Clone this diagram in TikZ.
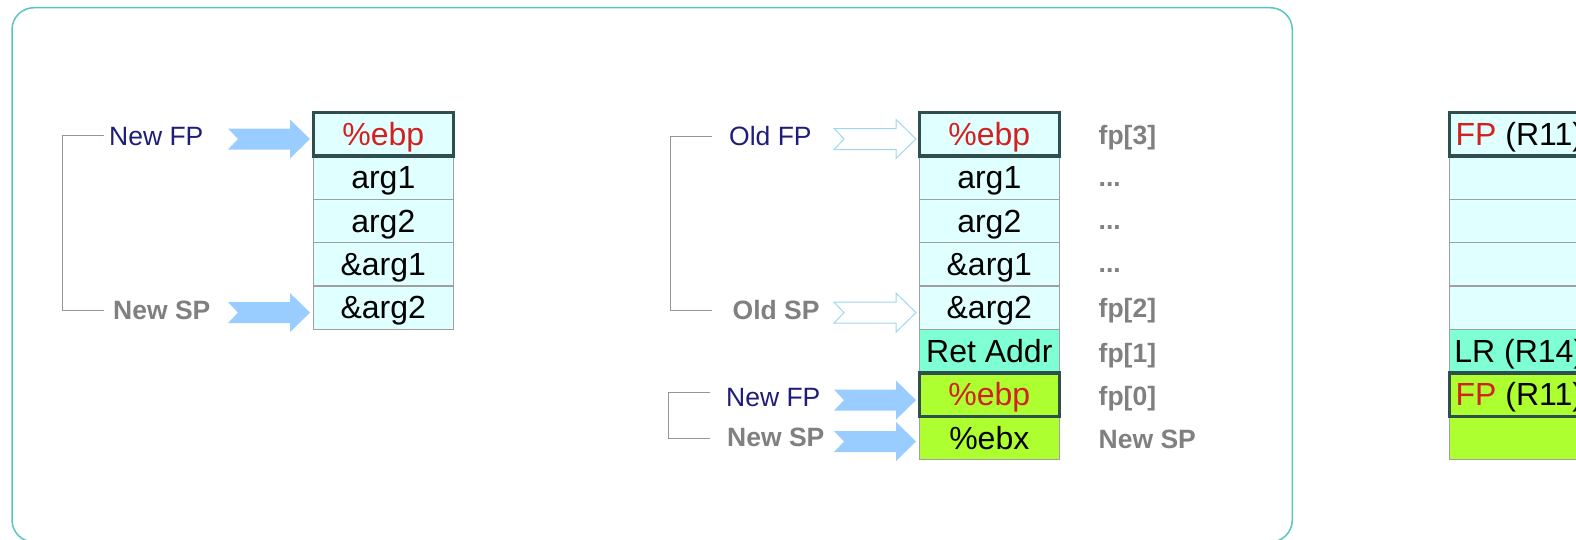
\documentclass[tikz,border=0pt]{standalone}
\usepackage{fontspec}
\setmainfont{Liberation Sans}
\usetikzlibrary{calc}

\definecolor{framecol}{RGB}{88,198,190}
\definecolor{cellfill}{RGB}{224,255,255}
\definecolor{retfill}{RGB}{127,255,212}
\definecolor{newfill}{RGB}{173,255,47}
\definecolor{celledge}{RGB}{160,160,160}
\definecolor{fpedge}{RGB}{47,79,79}
\definecolor{regred}{RGB}{212,32,32}
\definecolor{labnavy}{RGB}{30,30,120}
\definecolor{labgrey}{RGB}{128,128,128}
\definecolor{arrowblue}{RGB}{153,204,255}
\definecolor{arrowline}{RGB}{160,215,240}
\definecolor{bracketgrey}{RGB}{150,150,150}

\newcommand{\cellfont}{\fontsize{32}{38}\selectfont}
\newcommand{\labfont}{\fontsize{26.5}{32}\selectfont}
\newcommand{\reg}[1]{\textcolor{regred}{#1}}

\tikzset{
  cell/.style={rectangle, draw=celledge, line width=1.4pt, fill=cellfill,
    minimum width=140pt, minimum height=43.4pt, inner sep=0pt, outer sep=0pt,
    text height=22pt, text depth=0pt, font=\cellfont},
  retcell/.style={cell, fill=retfill},
  newcell/.style={cell, fill=newfill},
  fpcell/.style={draw=fpedge, line width=3.6pt},
  navylab/.style={anchor=base west, inner sep=0pt, font=\labfont, text=labnavy},
  greylab/.style={anchor=base west, inner sep=0pt, font=\labfont\bfseries, text=labgrey},
  bracket/.style={draw=bracketgrey, line width=1.2pt},
  blockarrow/.pic={\path[pic actions] (0,0) -- (-20,-19.5) -- (-20,-10.5) -- (-82,-10.5)
    -- (-72,0) -- (-82,10.5) -- (-20,10.5) -- (-20,19.5) -- cycle;},
  solidarrow/.style={fill=arrowblue},
  hollowarrow/.style={draw=arrowline, fill=white, line width=1pt, line join=miter},
}

\begin{document}
\begin{tikzpicture}[x=1pt,y=-1pt]
\useasboundingbox (0,0) rectangle (1576,539);

% enclosing frame
\draw[draw=framecol, line width=1.5pt, rounded corners=22pt] (12,7.7) rectangle (1292.3,542);

% ---- left stack ----
\node[cell] (L1) at (383.3,177.6) {arg1};
\node[cell] (L2) at (383.3,221.0) {arg2};
\node[cell] (L3) at (383.3,264.4) {\&arg1};
\node[cell] (L4) at (383.3,307.8) {\&arg2};
\node[cell,fpcell] (L0) at (383.3,134.2) {\reg{\%ebp}};

% ---- middle stack ----
\node[cell] (M1) at (989.3,177.6) {arg1};
\node[cell] (M2) at (989.3,221.0) {arg2};
\node[cell] (M3) at (989.3,264.4) {\&arg1};
\node[cell] (M4) at (989.3,307.8) {\&arg2};
\node[retcell] (M5) at (989.3,351.2) {Ret Addr};
\node[newcell] (M7) at (989.3,438.0) {\%ebx};
\node[cell,fpcell] (M0) at (989.3,134.2) {\reg{\%ebp}};
\node[newcell,fpcell] (M6) at (989.3,394.6) {\reg{\%ebp}};

% ---- right stack ----
\node[cell] (R1) at (1519.3,177.6) {};
\node[cell] (R2) at (1519.3,221.0) {};
\node[cell] (R3) at (1519.3,264.4) {};
\node[cell] (R4) at (1519.3,307.8) {};
\node[retcell] (R5) at (1519.3,351.2) {LR (R14)};
\node[newcell] (R7) at (1519.3,438.0) {};
\node[cell,fpcell] (R0) at (1519.3,134.2) {\reg{FP} (R11)};
\node[newcell,fpcell] (R6) at (1519.3,394.6) {\reg{FP} (R11)};

% ---- pointer labels ----
\node[navylab] (lnfp) at (109,145) {New FP};
\node[greylab] (lnsp) at (113,319.3) {New SP};
\node[navylab] (mofp) at (729,145) {Old FP};
\node[greylab] (mosp) at (732.5,319) {Old SP};
\node[navylab] (mnfp) at (726,406.7) {New FP};
\node[greylab] (mnsp) at (727,446) {New SP};

% ---- frame offsets ----
\node[greylab] (f3) at (1098.5,144.3) {fp[3]};
\node[greylab] (d1) at (1098.5,186) {...};
\node[greylab] (d2) at (1098.5,229.3) {...};
\node[greylab] (d3) at (1098.5,272.7) {...};
\node[greylab] (f2) at (1098.5,317.6) {fp[2]};
\node[greylab] (f1) at (1098.5,362) {fp[1]};
\node[greylab] (f0) at (1098.5,405) {fp[0]};
\node[greylab] (fsp) at (1098.5,448.5) {New SP};

% ---- brackets joining the pointer pairs ----
\coordinate (lbt) at (104,135.7);
\coordinate (lbb) at (104,310.7);
\draw[bracket] (lbt) -- ++(-41.3,0) |- (lbb);
\coordinate (mbt) at (711.5,136.5);
\coordinate (mbb) at (711.5,310.5);
\draw[bracket] (mbt) -- ++(-41,0) |- (mbb);
\coordinate (nbt) at (710,392.3);
\coordinate (nbb) at (710,438.7);
\draw[bracket] (nbt) -- ++(-41.7,0) |- (nbb);

% ---- pointer arrows ----
\pic[solidarrow] at ($(L0.west)+(-3.3,4.8)$) {blockarrow};
\pic[solidarrow] at ($(L4.west)+(-3.3,4.8)$) {blockarrow};
\pic[hollowarrow] at ($(M0.west)+(-3.3,4.8)$) {blockarrow};
\pic[hollowarrow] at ($(M4.west)+(-3.3,4.8)$) {blockarrow};
\pic[solidarrow] at ($(M6.west)+(-3.3,5.5)$) {blockarrow};
\pic[solidarrow] at ($(M7.west)+(-3.3,3.5)$) {blockarrow};
\end{tikzpicture}
\end{document}
